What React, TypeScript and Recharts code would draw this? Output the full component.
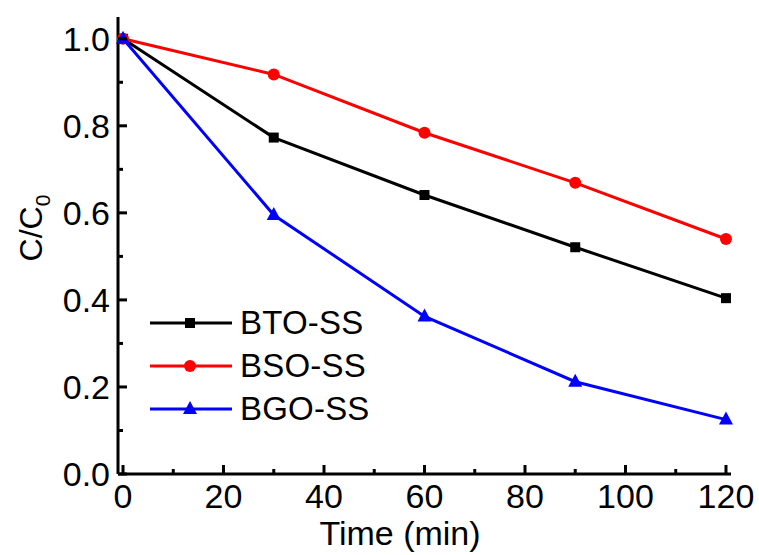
import React from 'react';
import { LineChart, Line, XAxis, YAxis, Legend, Label } from 'recharts';

const times = [0, 30, 60, 90, 120];
const btoValues = [1.0, 0.773, 0.641, 0.521, 0.404];
const bsoValues = [1.0, 0.918, 0.784, 0.669, 0.54];
const bgoValues = [1.0, 0.595, 0.362, 0.212, 0.125];
const xTicks = [0, 10, 20, 30, 40, 50, 60, 70, 80, 90, 100, 110, 120];
const yTicks = [0, 0.1, 0.2, 0.3, 0.4, 0.5, 0.6, 0.7, 0.8, 0.9, 1.0];
const seriesNames = ['BTO-SS', 'BSO-SS', 'BGO-SS'];

const data = times.map((t, i) => ({
  t,
  bto: btoValues[i],
  bso: bsoValues[i],
  bgo: bgoValues[i],
}));

const FONT = '"Liberation Sans", Arial, sans-serif';

const isMajorX = (v: number) => v % 20 === 0;
const isMajorY = (v: number) => Math.round(v * 10) % 2 === 0;

const BottomTick = (props: any) => {
  const { x, y, payload } = props;
  const v = payload.value;
  const major = isMajorX(v);
  return (
    <g>
      <line x1={x} x2={x} y1={y} y2={y - (major ? 9 : 5)} stroke="#000" strokeWidth={3} />
      {major && (
        <text x={x} y={y + 34} textAnchor="middle" fontSize={34} fontFamily={FONT} fill="#000">
          {v}
        </text>
      )}
    </g>
  );
};

const LeftTick = (props: any) => {
  const { x, y, payload } = props;
  const v = payload.value;
  const major = isMajorY(v);
  return (
    <g>
      <line x1={x} x2={x + (major ? 9 : 5)} y1={y} y2={y} stroke="#000" strokeWidth={3} />
      {major && (
        <text x={x - 8} y={y + 12} textAnchor="end" fontSize={34} fontFamily={FONT} fill="#000">
          {v.toFixed(1)}
        </text>
      )}
    </g>
  );
};

const TopTick = (props: any) => {
  const { x, y } = props;
  return <line x1={x} x2={x} y1={y} y2={y + 3} stroke="#000" strokeWidth={2} />;
};

const RightTick = (props: any) => {
  const { x, y } = props;
  return <line x1={x} x2={x + 3} y1={y} y2={y} stroke="#000" strokeWidth={2} />;
};

const SquareDot = (props: any) => {
  const { cx, cy } = props;
  if (cx == null || cy == null) return null;
  return <rect x={cx - 5} y={cy - 5} width={10} height={10} fill="#000" />;
};

const CircleDot = (props: any) => {
  const { cx, cy } = props;
  if (cx == null || cy == null) return null;
  return <circle cx={cx} cy={cy} r={6} fill="#ff0000" />;
};

const TriangleDot = (props: any) => {
  const { cx, cy } = props;
  if (cx == null || cy == null) return null;
  return <polygon points={`${cx},${cy - 8} ${cx - 7},${cy + 5} ${cx + 7},${cy + 5}`} fill="#0000ff" />;
};

const markerFor = (name: string, cx: number, cy: number) => {
  if (name === seriesNames[0]) return <SquareDot cx={cx} cy={cy} />;
  if (name === seriesNames[1]) return <CircleDot cx={cx} cy={cy} />;
  return <TriangleDot cx={cx} cy={cy} />;
};

const LegendContent = (props: any) => {
  const items = [...(props.payload || [])].sort(
    (a: any, b: any) => seriesNames.indexOf(a.value) - seriesNames.indexOf(b.value)
  );
  return (
    <svg width={260} height={135} style={{ display: 'block' }}>
      {items.map((p: any, i: number) => {
        const cy = 18 + i * 43;
        return (
          <g key={p.value}>
            <line x1={0} x2={82} y1={cy} y2={cy} stroke={p.color} strokeWidth={3} />
            {markerFor(p.value, 40, cy)}
            <text x={90} y={cy + 11} fontSize={33} fontFamily={FONT} fill="#000" letterSpacing={0.2}>
              {p.value}
            </text>
          </g>
        );
      })}
    </svg>
  );
};

export default function App() {
  return (
    <div style={{ position: 'absolute', left: 0, top: 0, background: '#fff' }}>
      <LineChart
        width={759}
        height={555}
        data={data}
        margin={{ top: 17, right: 28, bottom: 0, left: 0 }}
      >
        <XAxis
          xAxisId="bottom"
          dataKey="t"
          type="number"
          domain={[-1, 121]}
          ticks={xTicks}
          interval={0}
          height={81}
          tickSize={0}
          tickMargin={0}
          tickLine={false}
          axisLine={{ stroke: '#000', strokeWidth: 3 }}
          tick={<BottomTick />}
        >
          <Label
            content={(p: any) => {
              const vb = p.viewBox;
              return (
                <text x={400} y={vb.y + 71} textAnchor="middle" fontSize={34} fontFamily={FONT} fill="#000">
                  Time (min)
                </text>
              );
            }}
          />
        </XAxis>
        <XAxis
          xAxisId="top"
          orientation="top"
          dataKey="t"
          type="number"
          domain={[-1, 121]}
          ticks={xTicks}
          interval={0}
          height={0}
          tickSize={0}
          tickMargin={0}
          tickLine={false}
          axisLine={{ stroke: '#000', strokeWidth: 3 }}
          tick={<TopTick />}
        />
        <YAxis
          yAxisId="left"
          type="number"
          domain={[0, 1.05]}
          ticks={yTicks}
          interval={0}
          width={118}
          tickSize={0}
          tickMargin={0}
          tickLine={false}
          axisLine={{ stroke: '#000', strokeWidth: 3 }}
          tick={<LeftTick />}
        >
          <Label
            content={() => {
              const cx = 42;
              const cy = 228;
              return (
                <text
                  x={cx}
                  y={cy}
                  transform={`rotate(-90, ${cx}, ${cy})`}
                  textAnchor="middle"
                  fontSize={32}
                  fontFamily={FONT}
                  fill="#000"
                >
                  C/C
                  <tspan fontSize={21} dy={8}>0</tspan>
                </text>
              );
            }}
          />
        </YAxis>
        <YAxis
          yAxisId="right"
          orientation="right"
          type="number"
          domain={[0, 1.05]}
          ticks={yTicks}
          interval={0}
          width={0}
          tickSize={0}
          tickMargin={0}
          tickLine={false}
          axisLine={{ stroke: '#000', strokeWidth: 3 }}
          tick={<RightTick />}
        />
        <Legend
          layout="vertical"
          align="center"
          verticalAlign="middle"
          content={<LegendContent />}
          wrapperStyle={{ position: 'absolute', left: 150, top: 305, width: 260, height: 135 }}
        />
        <Line
          xAxisId="bottom"
          yAxisId="left"
          name={seriesNames[0]}
          dataKey="bto"
          stroke="#000000"
          strokeWidth={3}
          dot={<SquareDot />}
          activeDot={false}
          isAnimationActive={false}
        />
        <Line
          xAxisId="bottom"
          yAxisId="left"
          name={seriesNames[1]}
          dataKey="bso"
          stroke="#ff0000"
          strokeWidth={3}
          dot={<CircleDot />}
          activeDot={false}
          isAnimationActive={false}
        />
        <Line
          xAxisId="bottom"
          yAxisId="left"
          name={seriesNames[2]}
          dataKey="bgo"
          stroke="#0000ff"
          strokeWidth={3}
          dot={<TriangleDot />}
          activeDot={false}
          isAnimationActive={false}
        />
      </LineChart>
    </div>
  );
}
